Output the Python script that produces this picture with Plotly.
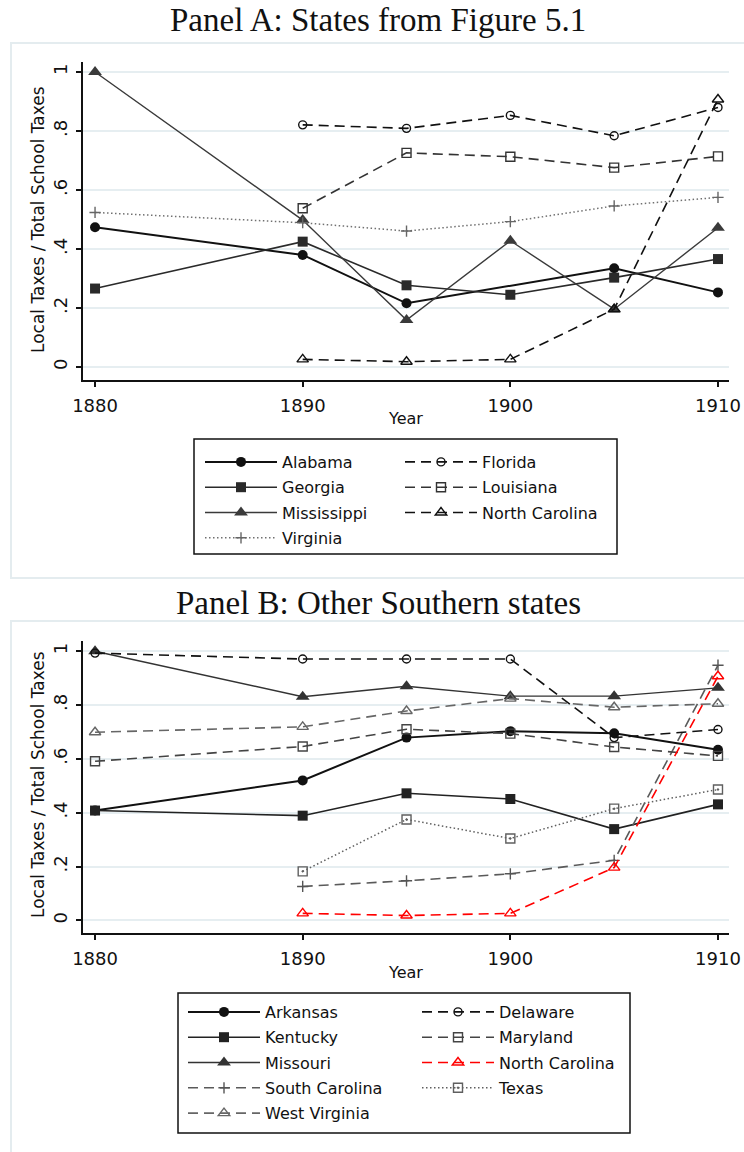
import plotly.graph_objects as go

# ---------------- data ----------------
# Panel A: States from Figure 5.1
alabama_years = [1880, 1890, 1895, 1905, 1910]
alabama_vals = [0.474, 0.380, 0.216, 0.335, 0.253]
georgia_years = [1880, 1890, 1895, 1900, 1905, 1910]
georgia_vals = [0.266, 0.425, 0.277, 0.245, 0.303, 0.366]
mississippi_years = [1880, 1890, 1895, 1900, 1905, 1910]
mississippi_vals = [1.000, 0.498, 0.159, 0.428, 0.196, 0.472]
virginia_years = [1880, 1890, 1895, 1900, 1905, 1910]
virginia_vals = [0.524, 0.489, 0.461, 0.493, 0.546, 0.575]
florida_years = [1890, 1895, 1900, 1905, 1910]
florida_vals = [0.821, 0.809, 0.853, 0.784, 0.880]
louisiana_years = [1890, 1895, 1900, 1905, 1910]
louisiana_vals = [0.538, 0.726, 0.713, 0.676, 0.714]
ncarolina_years = [1890, 1895, 1900, 1905, 1910]
ncarolina_vals = [0.026, 0.018, 0.026, 0.196, 0.907]

# Panel B: Other Southern states
arkansas_years = [1880, 1890, 1895, 1900, 1905, 1910]
arkansas_vals = [0.408, 0.520, 0.679, 0.703, 0.695, 0.634]
kentucky_years = [1880, 1890, 1895, 1900, 1905, 1910]
kentucky_vals = [0.408, 0.389, 0.472, 0.451, 0.339, 0.431]
missouri_years = [1880, 1890, 1895, 1900, 1905, 1910]
missouri_vals = [1.000, 0.831, 0.870, 0.833, 0.833, 0.864]
scarolina_years = [1890, 1895, 1900, 1905, 1910]
scarolina_vals = [0.126, 0.147, 0.173, 0.223, 0.948]
wvirginia_years = [1880, 1890, 1895, 1900, 1905, 1910]
wvirginia_vals = [0.699, 0.719, 0.778, 0.824, 0.792, 0.805]
delaware_years = [1880, 1890, 1895, 1900, 1905, 1910]
delaware_vals = [0.993, 0.971, 0.971, 0.971, 0.679, 0.709]
maryland_years = [1880, 1890, 1895, 1900, 1905, 1910]
maryland_vals = [0.591, 0.646, 0.710, 0.694, 0.644, 0.611]
texas_years = [1890, 1895, 1900, 1905, 1910]
texas_vals = [0.182, 0.375, 0.304, 0.415, 0.486]

x_ticks = [1880, 1890, 1900, 1910]
y_ticks = [0, 0.2, 0.4, 0.6, 0.8, 1.0]
y_ticktext = ["0", ".2", ".4", ".6", ".8", "1"]

panel_a_title = "Panel A: States from Figure 5.1"
panel_b_title = "Panel B: Other Southern states"
y_title = "Local Taxes / Total School Taxes"
x_title = "Year"

# ---------------- layout helpers ----------------
W, H = 744, 1152
def fx(p):
    return p / W
def fy(p):
    return 1 - p / H

SANS = "DejaVu Sans"
SERIF = "Liberation Serif"
DASH = "10px,6px"
DOT = "1.5px,2.5px"

fig = go.Figure()

def add(name, xs, ys, color, dash, width, symbol, size, axis, legend,
        mcolor=None, mline=0, mlinecolor=None):
    fig.add_trace(go.Scatter(
        x=xs, y=ys, name=name, mode="lines+markers",
        xaxis="x" if axis == 1 else "x2",
        yaxis="y" if axis == 1 else "y2",
        legend=legend, legendgroup=f"{name}-{axis}",
        line=dict(color=color, dash=dash, width=width),
        marker=dict(symbol=symbol, size=size, color=mcolor or color,
                    line=dict(width=mline, color=mlinecolor or (mcolor or color))),
        cliponaxis=False,
    ))

# Panel A, column 1
add("Alabama", alabama_years, alabama_vals, "#111111", "solid", 2.0, "circle", 10, 1, "legend")
add("Georgia", georgia_years, georgia_vals, "#2a2a2a", "solid", 1.6, "square", 10, 1, "legend")
add("Mississippi", mississippi_years, mississippi_vals, "#3a3a3a", "solid", 1.4, "triangle-up", 12, 1, "legend")
add("Virginia", virginia_years, virginia_vals, "#707070", DOT, 1.5, "cross-thin", 8, 1, "legend",
    mline=1.4, mlinecolor="#666666")
# Panel A, column 2
add("Florida", florida_years, florida_vals, "#111111", DASH, 1.6, "circle-open", 8, 1, "legend2", mline=1.4)
add("Louisiana", louisiana_years, louisiana_vals, "#333333", DASH, 1.6, "square-open", 9, 1, "legend2", mline=1.4)
add("North Carolina", ncarolina_years, ncarolina_vals, "#111111", DASH, 1.6, "triangle-up-open", 10, 1, "legend2", mline=1.4)

# Panel B, column 1
add("Arkansas", arkansas_years, arkansas_vals, "#111111", "solid", 2.0, "circle", 10, 2, "legend3")
add("Kentucky", kentucky_years, kentucky_vals, "#222222", "solid", 1.6, "square", 10, 2, "legend3")
add("Missouri", missouri_years, missouri_vals, "#333333", "solid", 1.4, "triangle-up", 12, 2, "legend3")
add("South Carolina", scarolina_years, scarolina_vals, "#5a5a5a", DASH, 1.6, "cross-thin", 8, 2, "legend3",
    mline=1.4, mlinecolor="#555555")
add("West Virginia", wvirginia_years, wvirginia_vals, "#666666", DASH, 1.6, "triangle-up-open", 10, 2, "legend3", mline=1.4)
# Panel B, column 2
add("Delaware", delaware_years, delaware_vals, "#111111", DASH, 1.6, "circle-open", 8, 2, "legend4", mline=1.4)
add("Maryland", maryland_years, maryland_vals, "#444444", DASH, 1.6, "square-open", 9, 2, "legend4", mline=1.4)
add("North Carolina", ncarolina_years, ncarolina_vals, "#ff0000", DASH, 1.6, "triangle-up-open", 10, 2, "legend4", mline=1.4)
add("Texas", texas_years, texas_vals, "#5f5f5f", DOT, 1.5, "square-open-dot", 9, 2, "legend4", mline=1.4)

xdom = [fx(83), fx(729)]
common_x = dict(range=[1879.42, 1910.53], tickvals=x_ticks, ticks="outside", ticklen=5, tickwidth=1.5,
                tickcolor="#111111", showline=True, linecolor="#111111", linewidth=1.5,
                showgrid=False, zeroline=False, tickfont=dict(family=SANS, size=18, color="#111111"),
                ticklabelstandoff=4, automargin=False, domain=xdom, fixedrange=True)
common_y = dict(tickvals=y_ticks, ticktext=y_ticktext, tickangle=-90, ticks="outside", ticklen=5,
                tickwidth=1.5, tickcolor="#111111", showline=True, linecolor="#111111", linewidth=1.5,
                showgrid=True, gridcolor="#e6eef1", gridwidth=1.5, zeroline=False, ticklabelstandoff=2,
                automargin=False, tickfont=dict(family=SANS, size=18, color="#111111"), fixedrange=True)

leg_common = dict(orientation="v", bgcolor="rgba(0,0,0,0)", borderwidth=0, itemwidth=72,
                  font=dict(family=SANS, size=16, color="#111111"), xanchor="left", yanchor="top",
                  tracegroupgap=1.5, itemclick=False, itemdoubleclick=False)

fig.update_layout(
    width=W, height=H, margin=dict(l=0, r=0, t=0, b=0, autoexpand=False),
    paper_bgcolor="white", plot_bgcolor="white",
    xaxis=dict(common_x, anchor="y"),
    yaxis=dict(common_y, anchor="x", range=[-0.044, 1.034], domain=[fy(380), fy(62)]),
    xaxis2=dict(common_x, anchor="y2"),
    yaxis2=dict(common_y, anchor="x2", range=[-0.047, 1.038], domain=[fy(933), fy(641)]),
    legend=dict(leg_common, x=fx(200), y=fy(445)),
    legend2=dict(leg_common, x=fx(400), y=fy(445)),
    legend3=dict(leg_common, x=fx(183), y=fy(995)),
    legend4=dict(leg_common, x=fx(417), y=fy(995)),
    showlegend=True,
)

# panel frames and legend boxes
fig.add_shape(type="rect", xref="paper", yref="paper", x0=fx(11), x1=fx(760), y0=fy(578), y1=fy(43),
              line=dict(color="#e4ecef", width=2), layer="below")
fig.add_shape(type="rect", xref="paper", yref="paper", x0=fx(11), x1=fx(760), y0=fy(1170), y1=fy(621),
              line=dict(color="#e4ecef", width=2), layer="below")
fig.add_shape(type="rect", xref="paper", yref="paper", x0=fx(194), x1=fx(617), y0=fy(554), y1=fy(439),
              line=dict(color="#111111", width=1.5))
fig.add_shape(type="rect", xref="paper", yref="paper", x0=fx(178), x1=fx(630), y0=fy(1133), y1=fy(993),
              line=dict(color="#111111", width=1.5))

# titles
fig.add_annotation(text=panel_a_title, xref="paper", yref="paper", x=fx(378), y=fy(20),
                   showarrow=False, font=dict(family=SERIF, size=33, color="#111111"),
                   xanchor="center", yanchor="middle")
fig.add_annotation(text=panel_b_title, xref="paper", yref="paper", x=fx(378), y=fy(603),
                   showarrow=False, font=dict(family=SERIF, size=33, color="#111111"),
                   xanchor="center", yanchor="middle")
# axis titles
for ymid in (220, 785):
    fig.add_annotation(text=y_title, xref="paper", yref="paper", x=fx(38), y=fy(ymid),
                       showarrow=False, textangle=-90, font=dict(family=SANS, size=17, color="#111111"),
                       xanchor="center", yanchor="middle")
for ymid in (418, 972):
    fig.add_annotation(text=x_title, xref="paper", yref="paper", x=fx(406), y=fy(ymid),
                       showarrow=False, font=dict(family=SANS, size=16, color="#111111"),
                       xanchor="center", yanchor="middle")

fig.write_html("out.html", config={"displayModeBar": False},
               post_script="document.body.style.margin='0';")
